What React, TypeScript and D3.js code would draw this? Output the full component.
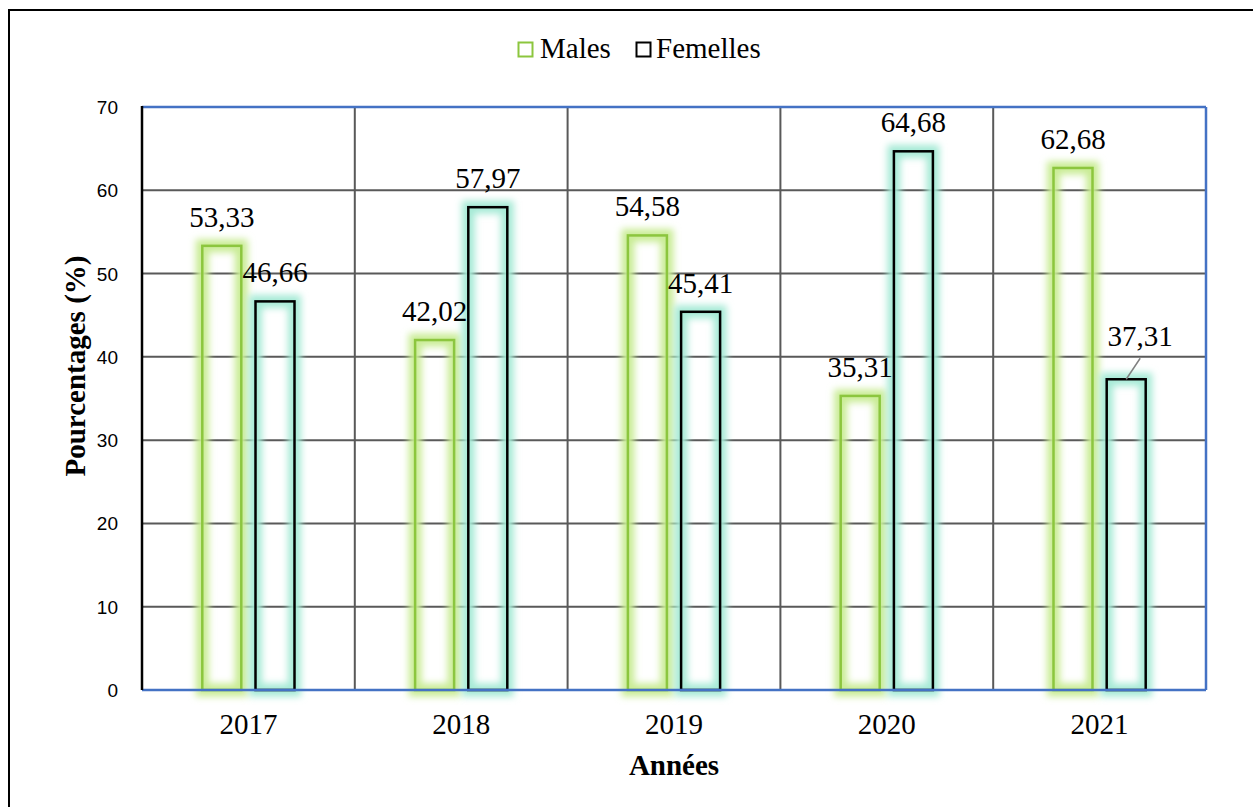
import React from "react";
import * as d3 from "d3";

const years = ["2017", "2018", "2019", "2020", "2021"];
const males = [53.33, 42.02, 54.58, 35.31, 62.68];
const femelles = [46.66, 57.97, 45.41, 64.68, 37.31];
const yTicks = [0, 10, 20, 30, 40, 50, 60, 70];
const seriesNames = ["Males", "Femelles"];

const W = 1253;
const H = 807;
const SERIF = "Liberation Serif";
const SANS = "Liberation Sans";

export default function App() {
  const left = 142, right = 1206, top = 107, bottom = 690;
  const x = d3.scaleBand<string>().domain(years).range([left, right]).paddingInner(0).paddingOuter(0);
  const y = d3.scaleLinear().domain([0, 70]).range([bottom, top]);
  const bw = x.bandwidth();
  const barW = 39;
  const off = 26.6;
  const fmt = (v: number) => v.toFixed(2).replace(".", ",");
  const series = [
    { name: seriesNames[0], values: males, stroke: "#8cc63e", glow: "#c9ec95", dx: -off },
    { name: seriesNames[1], values: femelles, stroke: "#000000", glow: "#a6ead6", dx: off },
  ];

  return (
    <svg width={W} height={H} style={{ position: "absolute", left: 0, top: 0, background: "#fff" }}>
      <defs>
        <filter id="glow" x="-50%" y="-20%" width="200%" height="140%">
          <feGaussianBlur stdDeviation="3.5" />
        </filter>
      </defs>
      <rect x={0} y={0} width={W} height={H} fill="#fff" />
      <rect x={9} y={10} width={W + 20} height={H + 20} fill="none" stroke="#000" strokeWidth={2} />

      {/* legend */}
      <g>
        <rect x={518.5} y={42.5} width={14} height={14} fill="#fff" stroke="#8cc63e" strokeWidth={2} />
        <text x={540} y={58} fontFamily={SERIF} fontSize={29} fill="#000">{seriesNames[0]}</text>
        <rect x={636.5} y={42.5} width={14} height={14} fill="#fff" stroke="#000" strokeWidth={2} />
        <text x={656} y={58} fontFamily={SERIF} fontSize={29} fill="#000">{seriesNames[1]}</text>
      </g>

      {/* gridlines */}
      {yTicks.filter((t) => t > 0 && t < 70).map((t) => (
        <line key={"h" + t} x1={left} x2={right} y1={y(t)} y2={y(t)} stroke="#595959" strokeWidth={2} />
      ))}
      {years.slice(1).map((yr) => (
        <line key={"v" + yr} x1={x(yr)!} x2={x(yr)!} y1={top} y2={bottom} stroke="#595959" strokeWidth={2} />
      ))}

      {/* bars */}
      {series.map((s) =>
        years.map((yr, i) => {
          const cx = x(yr)! + bw / 2 + s.dx;
          const yt = y(s.values[i]);
          return (
            <g key={s.name + yr}>
              <rect x={cx - barW / 2} y={yt} width={barW} height={bottom - yt} fill="none" stroke={s.glow} strokeWidth={13} filter="url(#glow)" />
              <rect x={cx - barW / 2} y={yt} width={barW} height={bottom - yt} fill="none" stroke={s.stroke} strokeWidth={2.5} />
            </g>
          );
        })
      )}

      {/* plot border */}
      <line x1={left} x2={right} y1={top} y2={top} stroke="#4472c4" strokeWidth={2.5} />
      <line x1={right} x2={right} y1={top} y2={bottom} stroke="#4472c4" strokeWidth={2.5} />
      <line x1={left} x2={right} y1={bottom} y2={bottom} stroke="#4472c4" strokeWidth={2.5} />
      <line x1={left} x2={left} y1={top - 1} y2={bottom} stroke="#000" strokeWidth={2.5} />

      {/* value labels */}
      {series.map((s, si) =>
        years.map((yr, i) => {
          const cx = x(yr)! + bw / 2 + s.dx;
          const yt = y(s.values[i]);
          const nudged = si === 1 && i === 4;
          const lx = nudged ? cx + 14 : cx;
          const ly = nudged ? yt - 33 : yt - 19;
          return (
            <g key={"l" + s.name + yr}>
              {nudged && <line x1={cx} y1={yt} x2={cx + 14} y2={yt - 21} stroke="#7f7f7f" strokeWidth={1.5} />}
              <text x={lx} y={ly} textAnchor="middle" fontFamily={SERIF} fontSize={29} fill="#000">{fmt(s.values[i])}</text>
            </g>
          );
        })
      )}

      {/* y ticks */}
      {yTicks.map((t) => (
        <text key={"yt" + t} x={118} y={y(t) + 7} textAnchor="end" fontFamily={SANS} fontSize={19} fill="#000">{t}</text>
      ))}
      {/* x ticks */}
      {years.map((yr) => (
        <text key={"xt" + yr} x={x(yr)! + bw / 2} y={734} textAnchor="middle" fontFamily={SERIF} fontSize={29} fill="#000">{yr}</text>
      ))}

      {/* axis titles */}
      <text x={(left + right) / 2} y={775} textAnchor="middle" fontFamily={SERIF} fontSize={29} fontWeight="bold" fill="#000">Années</text>
      <text transform="translate(85, 366) rotate(-90)" textAnchor="middle" fontFamily={SERIF} fontSize={29} fontWeight="bold" fill="#000">Pourcentages (%)</text>
    </svg>
  );
}
